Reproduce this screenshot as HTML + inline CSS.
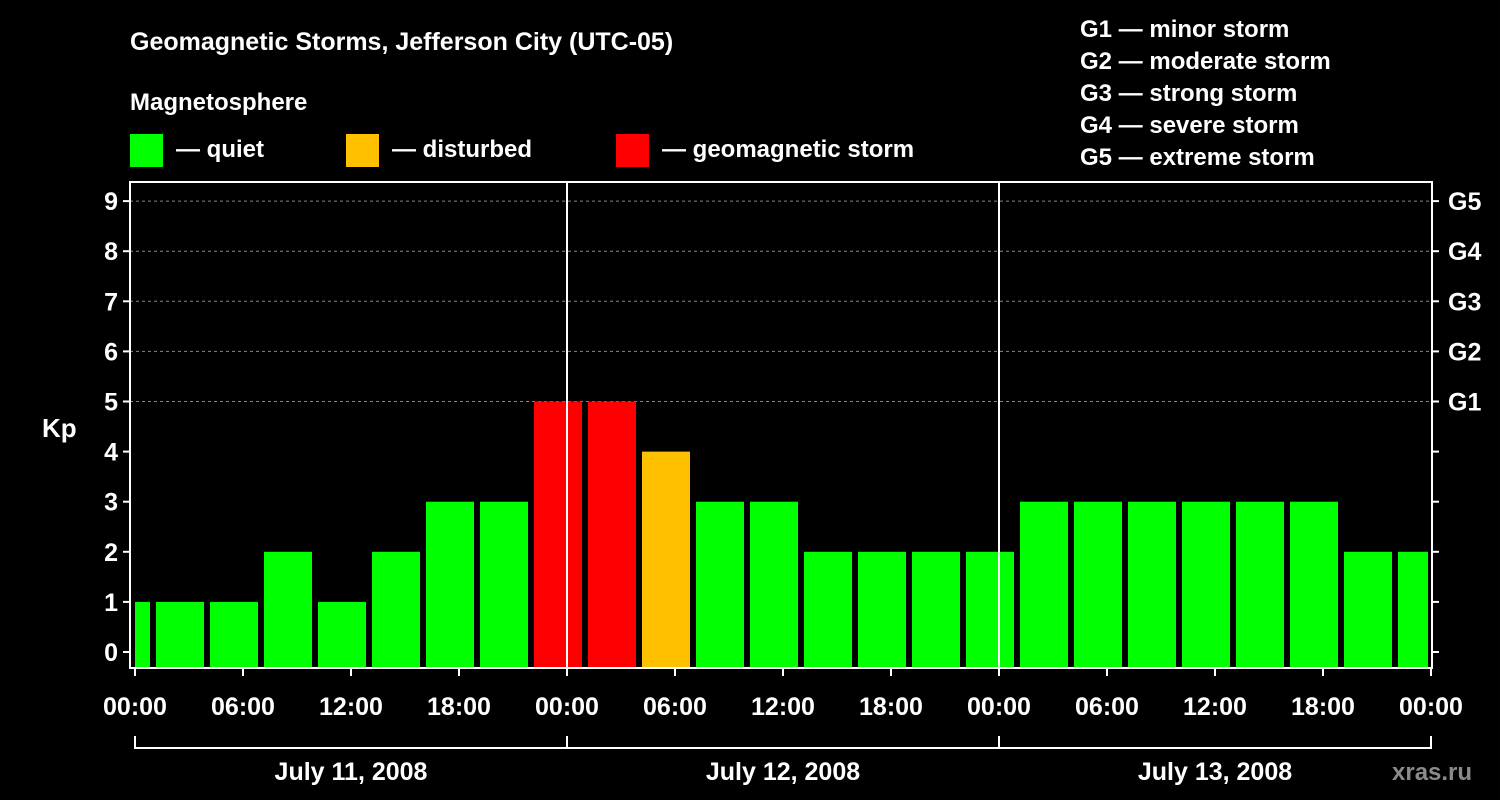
<!DOCTYPE html>
<html><head><meta charset="utf-8"><style>
body{margin:0;background:#000;width:1500px;height:800px;overflow:hidden}
svg{display:block}
text{font-family:"Liberation Sans",Arial,sans-serif;font-weight:bold;fill:#fff}
</style></head><body>
<svg id="chart" width="1500" height="800">
<text x="130" y="50" font-size="25">Geomagnetic Storms, Jefferson City (UTC-05)</text>
<text x="130" y="110" font-size="24">Magnetosphere</text>
<rect x="130" y="134" width="33" height="33" fill="#00ff00"/>
<text x="176" y="157" font-size="24">— quiet</text>
<rect x="346" y="134" width="33" height="33" fill="#ffc000"/>
<text x="392" y="157" font-size="24">— disturbed</text>
<rect x="616" y="134" width="33" height="33" fill="#ff0000"/>
<text x="662" y="157" font-size="24">— geomagnetic storm</text>
<g font-size="24">
<text x="1080" y="37">G1 — minor storm</text>
<text x="1080" y="69">G2 — moderate storm</text>
<text x="1080" y="101">G3 — strong storm</text>
<text x="1080" y="133">G4 — severe storm</text>
<text x="1080" y="165">G5 — extreme storm</text>
</g>
<text x="42" y="437" font-size="26">Kp</text>
<text x="1392" y="780" font-size="24" fill="#888" style="fill:#8a8a8a">xras.ru</text>
<g id="plot"></g>
</svg>
<script>
const kpValues=[1,1,1,2,1,2,3,3,5,5,4,3,3,2,2,2,2,3,3,3,3,3,3,2,2];
const firstBarHour=-2;
const yTicks=[0,1,2,3,4,5,6,7,8,9];
const gLabels=["G1","G2","G3","G4","G5"];
const xTickLabels=["00:00","06:00","12:00","18:00","00:00","06:00","12:00","18:00","00:00","06:00","12:00","18:00","00:00"];
const dayLabels=["July 11, 2008","July 12, 2008","July 13, 2008"];
const NS="http://www.w3.org/2000/svg";
const L=130,R=1432,T=182,B=668,X0=135,XW=1431;
const xs=h=>X0+(XW-X0)*h/72;
const ys=v=>652-50.1*v;
const g=document.getElementById('plot');
function mk(tag,a){const e=document.createElementNS(NS,tag);for(const k in a)e.setAttribute(k,a[k]);g.appendChild(e);return e;}
// grid
[5,6,7,8,9].forEach(v=>{const e=mk('line',{x1:L,x2:R,y1:ys(v),y2:ys(v),stroke:'#888','stroke-dasharray':'3,3'});

});
// bars
kpValues.forEach((v,i)=>{let h0=firstBarHour+i*3;let x1=Math.max(xs(h0)+3,X0),x2=Math.min(xs(h0+3)-3,XW-3);
const c=v>=5?'#ff0000':v>=4?'#ffc000':'#00ff00';
const e=mk('rect',{x:x1,y:ys(v),width:x2-x1,height:B-ys(v),fill:c});

});
// day separators
[1,2].forEach(d=>{const e=mk('line',{x1:xs(d*24),x2:xs(d*24),y1:T,y2:B,stroke:'#fff','stroke-width':2});

});
// frame
const fr=mk('rect',{x:L,y:T,width:R-L,height:B-T,fill:'none',stroke:'#fff','stroke-width':2});


// y ticks
yTicks.forEach(v=>{mk('line',{x1:L-7,x2:L,y1:ys(v),y2:ys(v),stroke:'#fff','stroke-width':2});
mk('line',{x1:R,x2:R+7,y1:ys(v),y2:ys(v),stroke:'#fff','stroke-width':2});
const t=mk('text',{x:L-12,y:ys(v)+9,'font-size':25,'text-anchor':'end'});t.textContent=v;

});
gLabels.forEach((s,i)=>{const t=mk('text',{x:R+16,y:ys(5+i)+9,'font-size':25});t.textContent=s;

});
// x ticks
xTickLabels.forEach((s,i)=>{const x=xs(i*6);mk('line',{x1:x,x2:x,y1:B,y2:B+8,stroke:'#fff','stroke-width':2});
const t=mk('text',{x:x,y:715,'font-size':25,'text-anchor':'middle'});t.textContent=s;

});
// day bracket
mk('line',{x1:X0,x2:XW,y1:748,y2:748,stroke:'#fff','stroke-width':2});
[0,1,2,3].forEach(d=>mk('line',{x1:xs(d*24),x2:xs(d*24),y1:736,y2:749,stroke:'#fff','stroke-width':2}));
dayLabels.forEach((s,i)=>{const t=mk('text',{x:xs(i*24+12),y:780,'font-size':25,'text-anchor':'middle'});t.textContent=s;

});
</script>
</body></html>
